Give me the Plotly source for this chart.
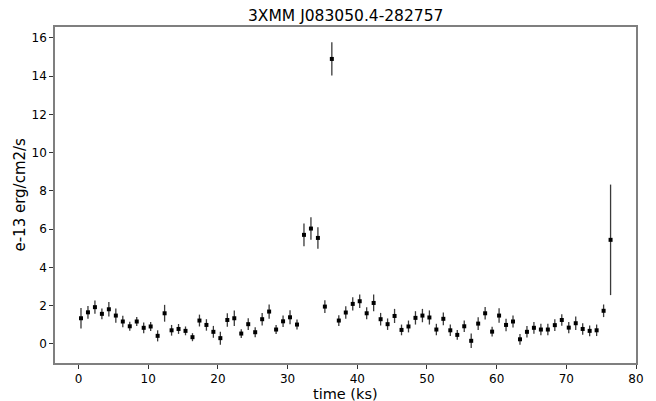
import plotly.graph_objects as go

# Light curve: bin centre time (ks), flux (1e-13 erg/cm2/s) and 1-sigma error
time_ks = [0.35, 1.35, 2.35, 3.35, 4.35, 5.35, 6.35, 7.35, 8.35, 9.35,
           10.35, 11.35, 12.35, 13.35, 14.35, 15.35, 16.35, 17.35, 18.35, 19.35,
           20.35, 21.35, 22.35, 23.35, 24.35, 25.35, 26.35, 27.35, 28.35, 29.35,
           30.35, 31.35, 32.35, 33.35, 34.35, 35.35, 36.35, 37.35, 38.35, 39.35,
           40.35, 41.35, 42.35, 43.35, 44.35, 45.35, 46.35, 47.35, 48.35, 49.35,
           50.35, 51.35, 52.35, 53.35, 54.35, 55.35, 56.35, 57.35, 58.35, 59.35,
           60.35, 61.35, 62.35, 63.35, 64.35, 65.35, 66.35, 67.35, 68.35, 69.35,
           70.35, 71.35, 72.35, 73.35, 74.35, 75.35, 76.35]

flux = [1.34, 1.65, 1.92, 1.57, 1.81, 1.48, 1.17, 0.92, 1.17, 0.84,
        0.91, 0.42, 1.60, 0.71, 0.78, 0.68, 0.35, 1.22, 0.99, 0.63,
        0.30, 1.25, 1.34, 0.54, 1.03, 0.61, 1.29, 1.69, 0.75, 1.18,
        1.39, 1.01, 5.70, 6.03, 5.54, 1.95, 14.90, 1.22, 1.64, 2.09,
        2.23, 1.60, 2.14, 1.29, 1.03, 1.46, 0.73, 0.91, 1.36, 1.48,
        1.38, 0.75, 1.31, 0.71, 0.47, 0.92, 0.16, 1.06, 1.60, 0.64,
        1.48, 0.99, 1.17, 0.24, 0.63, 0.84, 0.75, 0.75, 0.98, 1.25,
        0.85, 1.08, 0.78, 0.68, 0.71, 1.73, 5.44]

flux_err = [0.54, 0.33, 0.35, 0.28, 0.38, 0.37, 0.30, 0.24, 0.24, 0.28,
            0.24, 0.29, 0.44, 0.28, 0.26, 0.23, 0.21, 0.31, 0.30, 0.31,
            0.34, 0.35, 0.40, 0.23, 0.31, 0.26, 0.33, 0.37, 0.24, 0.30,
            0.37, 0.26, 0.59, 0.59, 0.56, 0.33, 0.87, 0.28, 0.33, 0.35,
            0.35, 0.31, 0.44, 0.33, 0.30, 0.37, 0.28, 0.31, 0.35, 0.35,
            0.37, 0.30, 0.33, 0.30, 0.26, 0.30, 0.38, 0.33, 0.33, 0.26,
            0.38, 0.33, 0.31, 0.28, 0.30, 0.31, 0.30, 0.30, 0.31, 0.30,
            0.30, 0.35, 0.30, 0.28, 0.30, 0.33, 2.89]

x_ticks = [0, 10, 20, 30, 40, 50, 60, 70, 80]
y_ticks = [0, 2, 4, 6, 8, 10, 12, 14, 16]

fig = go.Figure()
fig.add_trace(go.Scatter(
    x=time_ks, y=flux, mode="markers",
    marker=dict(color="black", size=4, symbol="square"),
    error_y=dict(type="data", array=flux_err, visible=True,
                 color="#3a3a3a", thickness=1.3, width=0),
    showlegend=False,
))

axis_common = dict(
    automargin=False,
    showgrid=False, zeroline=False, showline=True, linecolor="#7f7f7f",
    linewidth=1.5, mirror=True, ticks="outside", ticklen=4, tickwidth=1,
    tickcolor="#333333", tickfont=dict(family="DejaVu Sans", size=12, color="black"),
)

label_font = dict(family="DejaVu Sans", size=14.5, color="black")

fig.update_layout(
    width=656, height=401,
    margin=dict(l=55, r=20, t=27, b=38),
    paper_bgcolor="white", plot_bgcolor="white",
    title=dict(text="3XMM J083050.4-282757", x=0.527, xanchor="center",
               y=0.96, yanchor="middle",
               font=dict(family="DejaVu Sans", size=15.5, color="black")),
    xaxis=dict(range=[-3.38, 80.0], tickvals=x_ticks, **axis_common),
    yaxis=dict(range=[-1.0, 16.57], tickvals=y_ticks, **axis_common),
    annotations=[
        dict(text="time (ks)", xref="paper", yref="paper", x=0.5, y=-0.091,
             xanchor="center", yanchor="middle", borderpad=0, showarrow=False,
             font=label_font),
        dict(text="e-13 erg/cm2/s", xref="paper", yref="paper", x=-0.061, y=0.5,
             xanchor="center", yanchor="middle", textangle=-90, showarrow=False,
             font=dict(family="DejaVu Sans", size=15, color="black")),
    ],
)

fig.write_html("out.html")
